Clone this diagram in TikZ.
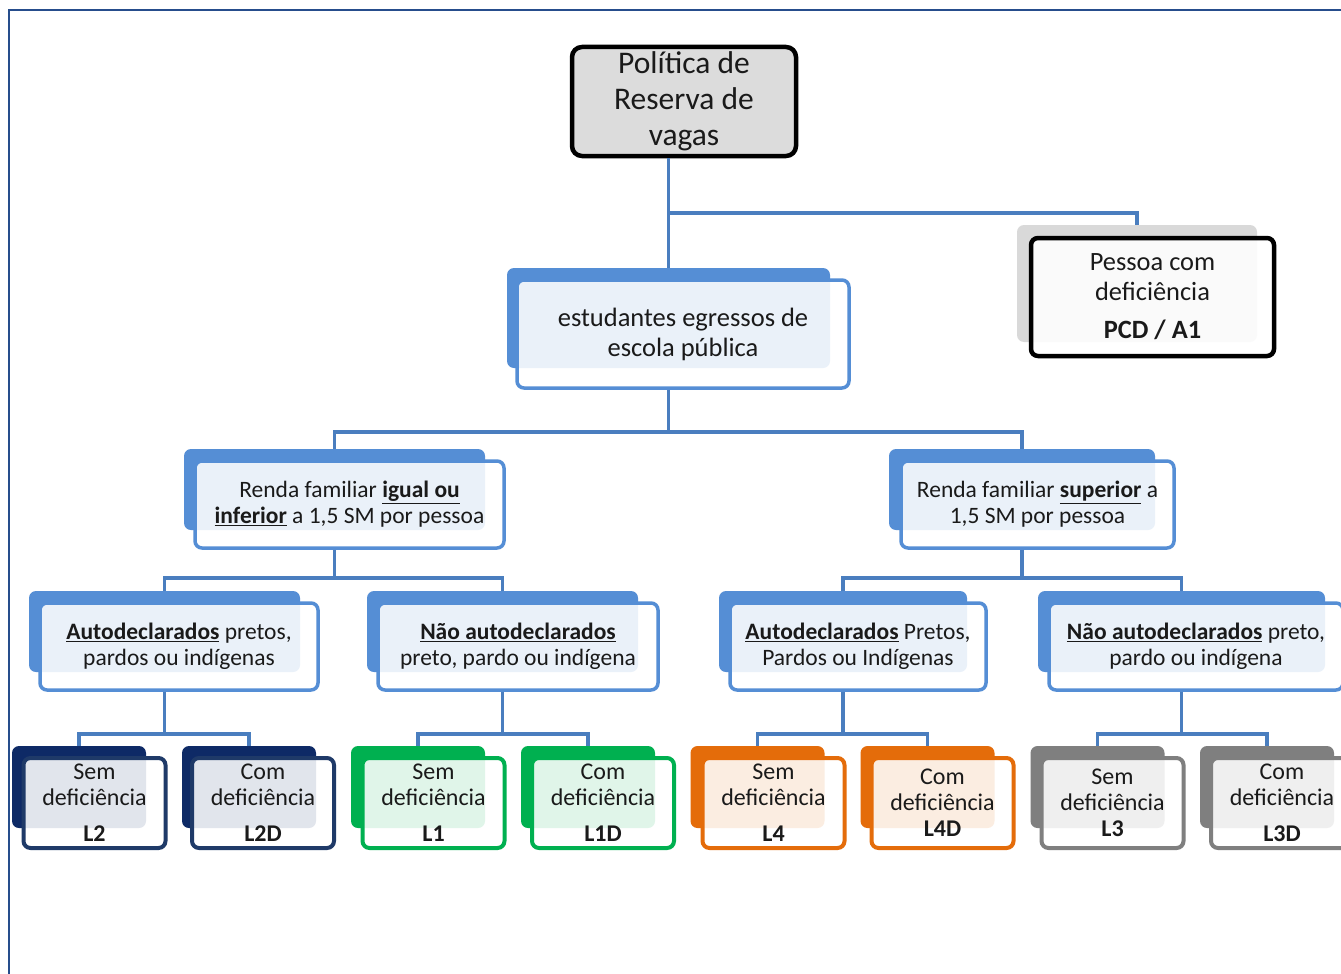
\documentclass[tikz,border=0pt]{standalone}
\usepackage{fontspec}
\setmainfont{Carlito}
\usetikzlibrary{calc}
\definecolor{acc}{HTML}{558ED5}
\definecolor{connc}{HTML}{4A7EBF}
\definecolor{navyb}{HTML}{0E2A66}
\definecolor{navyd}{HTML}{1F3A68}
\definecolor{grn}{HTML}{00B050}
\definecolor{org}{HTML}{E46C0A}
\definecolor{gry}{HTML}{7F7F7F}
\definecolor{rootfill}{HTML}{DCDCDC}
\definecolor{pcdgray}{HTML}{D9D9D9}
\definecolor{framec}{HTML}{264D8C}
\definecolor{txt}{HTML}{1A1A1A}
\newcommand\fsz[2]{\fontsize{#1}{#2}\selectfont}
\begin{document}
\begin{tikzpicture}[x=1pt,y=-1pt,
  back/.style={rectangle, rounded corners=7pt, inner sep=0pt, outer sep=0pt, draw=none},
  front/.style={rectangle, rounded corners=7pt, inner sep=0pt, line width=3.5pt, fill=white, fill opacity=0.88, text opacity=1, draw opacity=1, align=center, text=txt},
  bbox/.style={back, fill=acc},
  bfront/.style={front, draw=acc},
  lb/.style={back, fill=#1, minimum width=134pt, minimum height=82pt},
  lf/.style={front, draw=#1, line width=4pt, minimum width=142pt, minimum height=90pt, font=\fsz{24}{26}},
  conn/.style={draw=connc, line width=3.5pt},
  l3font/.style={font=\fsz{23.5}{26}}
]
\useasboundingbox (0,0) rectangle (1341,974);
\fill[white] (0,0) rectangle (1341,974);
% page frame
\draw[framec, line width=2.5pt] (1345,10) -- (9,10) -- (9,980);

% root
\node[rectangle, rounded corners=10pt, fill=rootfill, draw=black, line width=4.5pt,
      minimum width=224pt, minimum height=109pt, align=center, text=txt,
      font=\fsz{31.5}{36}] (root) at (684,101.5) {Política de\\Reserva de\\vagas};

% PCD
\node[back, fill=pcdgray, minimum width=240pt, minimum height=117pt] (pcdb) at (1137,283.5) {};
\node[front, draw=black, line width=4.5pt, minimum width=243pt, minimum height=118pt,
      font=\fsz{26.4}{30}] (pcdf) at (1152.5,297) {Pessoa com\\deficiência\\[8pt]\textbf{PCD / A1}};

% estudantes
\node[bbox, minimum width=323pt, minimum height=100pt] (estb) at (668.5,318) {};
\node[bfront, minimum width=332pt, minimum height=108pt, font=\fsz{26.5}{30}] (estf) at (683,334)
  {estudantes egressos de\\escola pública};

% renda
\node[bbox, minimum width=301pt, minimum height=81pt] (rlb) at (334.5,489.5) {};
\node[bfront, minimum width=309pt, minimum height=87pt, l3font] (rlf) at (349.5,504.5)
  {Renda familiar \underline{\textbf{igual ou}}\\\underline{\textbf{inferior}} a 1,5 SM por pessoa};
\node[bbox, minimum width=266pt, minimum height=81pt] (rrb) at (1022,489.5) {};
\node[bfront, minimum width=273pt, minimum height=87pt, l3font] (rrf) at (1037.5,504.5)
  {Renda familiar \underline{\textbf{superior}} a\\1,5 SM por pessoa};

% level 3
\node[bbox, minimum width=271pt, minimum height=81pt] (a1b) at (164.5,631.5) {};
\node[bfront, minimum width=278pt, minimum height=87pt, l3font] (a1f) at (179,646.5)
  {\underline{\textbf{Autodeclarados}} pretos,\\pardos ou indígenas};
\node[bbox, minimum width=271pt, minimum height=81pt] (n1b) at (502.5,631.5) {};
\node[bfront, minimum width=280pt, minimum height=87pt, l3font] (n1f) at (518,646.5)
  {\underline{\textbf{Não autodeclarados}}\\preto, pardo ou indígena};
\node[bbox, minimum width=248pt, minimum height=81pt] (a2b) at (843,631.5) {};
\node[bfront, minimum width=256pt, minimum height=87pt, l3font] (a2f) at (858,646.5)
  {\underline{\textbf{Autodeclarados}} Pretos,\\Pardos ou Indígenas};
\node[bbox, minimum width=287pt, minimum height=81pt] (n2b) at (1181.5,631.5) {};
\node[bfront, minimum width=294pt, minimum height=87pt, l3font] (n2f) at (1196,646.5)
  {\underline{\textbf{Não autodeclarados}} preto,\\pardo ou indígena};

% leaves
\node[lb=navyb] (l2b) at (79,787) {};
\node[lf=navyd] (l2f) at (94.5,803) {Sem\\deficiência\\[10pt]\textbf{L2}};
\node[lb=navyb] (l2db) at (249,787) {};
\node[lf=navyd] (l2df) at (263,803) {Com\\deficiência\\[10pt]\textbf{L2D}};
\node[lb=grn] (l1b) at (418,787) {};
\node[lf=grn] (l1f) at (433.5,803) {Sem\\deficiência\\[10pt]\textbf{L1}};
\node[lb=grn] (l1db) at (588,787) {};
\node[lf=grn] (l1df) at (603,803) {Com\\deficiência\\[10pt]\textbf{L1D}};
\node[lb=org] (l4b) at (757.5,787) {};
\node[lf=org] (l4f) at (773.5,803) {Sem\\deficiência\\[10pt]\textbf{L4}};
\node[lb=org] (l4db) at (927.5,787) {};
\node[lf=org] (l4df) at (942.5,803) {Com\\deficiência\\\textbf{L4D}};
\node[lb=gry] (l3b) at (1097.5,787) {};
\node[lf=gry] (l3f) at (1112.5,803) {Sem\\deficiência\\\textbf{L3}};
\node[lb=gry] (l3db) at (1267,787) {};
\node[lf=gry] (l3df) at (1282,803) {Com\\deficiência\\[10pt]\textbf{L3D}};

% connectors
\coordinate (j0) at ($(estb.north |- root.south)!0.5!(estb.north)$);
\draw[conn] (estb.north |- root.south) -- (estb.north);
\draw[conn] (j0) -| (pcdb.north);

\coordinate (j1) at ($(estb.south |- estf.south)+(0,42)$);
\draw[conn] (estb.south |- estf.south) -- (j1);
\draw[conn] (rlb.north) |- (j1) -| (rrb.north);

\coordinate (j2) at ($(rlb.south |- rlf.south)+(0,28)$);
\draw[conn] (rlb.south |- rlf.south) -- (j2);
\draw[conn] (a1b.north) |- (j2) -| (n1b.north);
\coordinate (j3) at ($(rrb.south |- rrf.south)+(0,28)$);
\draw[conn] (rrb.south |- rrf.south) -- (j3);
\draw[conn] (a2b.north) |- (j3) -| (n2b.north);

\coordinate (k1) at ($(a1b.south |- a1f.south)+(0,42)$);
\draw[conn] (a1b.south |- a1f.south) -- (k1);
\draw[conn] (l2b.north) |- (k1) -| (l2db.north);
\coordinate (k2) at ($(n1b.south |- n1f.south)+(0,42)$);
\draw[conn] (n1b.south |- n1f.south) -- (k2);
\draw[conn] (l1b.north) |- (k2) -| (l1db.north);
\coordinate (k3) at ($(a2b.south |- a2f.south)+(0,42)$);
\draw[conn] (a2b.south |- a2f.south) -- (k3);
\draw[conn] (l4b.north) |- (k3) -| (l4db.north);
\coordinate (k4) at ($(n2b.south |- n2f.south)+(0,42)$);
\draw[conn] (n2b.south |- n2f.south) -- (k4);
\draw[conn] (l3b.north) |- (k4) -| (l3db.north);
\end{tikzpicture}
\end{document}
